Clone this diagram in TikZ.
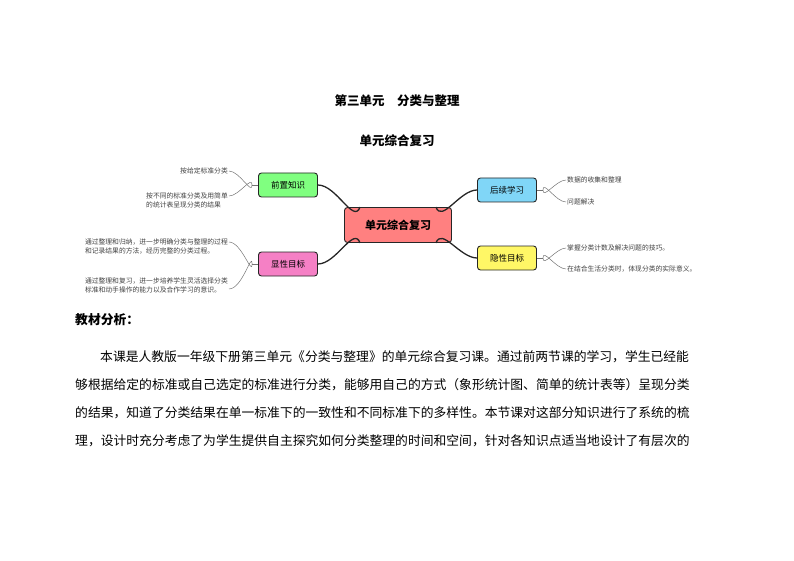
\documentclass[tikz,border=0pt]{standalone}
\usepackage{fontspec}
\setmainfont{Noto Sans CJK SC}
\usetikzlibrary{positioning}
\begin{document}
\begin{tikzpicture}[x=1pt,y=-1pt,
branch/.style={
% branch boxes:
rectangle,draw=black!85,line width=0.9pt,rounded corners=3pt,
minimum width=59pt,minimum height=24pt,inner sep=0pt,
font=\fontsize{8.5}{10}\selectfont
},
leaf/.style={inner sep=1pt,font=\fontsize{6.8}{9}\selectfont,text=black!75,align=left},
main/.style={draw=black!85,line width=1.3pt},
twig/.style={draw=black!55,line width=0.5pt},
line/.style={anchor=west,inner sep=0pt,font=\fontsize{12.8}{15}\selectfont}
]
\useasboundingbox (0,0) rectangle (794,561);
\node (title) at (397,101) {\fontsize{12.5}{15}\selectfont\bfseries 第三单元\quad 分类与整理};
\node (sub) at (397,141) {\fontsize{12.5}{15}\selectfont\bfseries 单元综合复习};
% mind map:
\node (center) [branch,fill=red!50!white,minimum width=107pt,minimum height=35pt,font=\fontsize{11}{13}\selectfont\bfseries] at (398,225) {单元综合复习};
\node (pre) [branch,fill=green!50!white] at (288,185) {前置知识};
\node (explicit) [branch,fill=magenta!50!white] at (288,264) {显性目标};
\node (post) [branch,fill=cyan!50!white] at (507,190) {后续学习};
\node (implicit) [branch,fill=yellow!60!white] at (507,258) {隐性目标};
\draw[main] (center.north west) ++(16,0) to[out=-110,in=0] (pre.east);
\draw[main] (center.south west) ++(16,0) to[out=110,in=0] (explicit.east);
\draw[main] (center.north east) ++(-16,0) to[out=-70,in=180] (post.west);
\draw[main] (center.south east) ++(-16,0) to[out=70,in=180] (implicit.west);
\node (pre1) [leaf,anchor=east] at (229,171) {按给定标准分类};
\node (pre2) [leaf,anchor=east] at (229,200) {按不同的标准分类及用简单\\的统计表呈现分类的结果};
\node (exp1) [leaf,anchor=east] at (229,246) {通过整理和归纳，进一步明确分类与整理的过程\\和记录结果的方法，经历完整的分类过程。};
\node (exp2) [leaf,anchor=east] at (229,285) {通过整理和复习，进一步培养学生灵活选择分类\\标准和动手操作的能力以及合作学习的意识。};
\node (post1) [leaf,anchor=west] at (566,180) {数据的收集和整理};
\node (post2) [leaf,anchor=west] at (566,202) {问题解决};
\node (imp1) [leaf,anchor=west] at (566,248) {掌握分类计数及解决问题的技巧。};
\node (imp2) [leaf,anchor=west] at (566,269) {在结合生活分类时，体现分类的实际意义。};
\draw[twig] (pre.west) -- ++(-6,0) coordinate (preS);
\draw[twig] (preS) to[out=-90,in=0] (pre1.east);
\draw[twig] (preS) to[out=90,in=0] ([yshift=4]pre2.east);
\draw[twig] (explicit.west) -- ++(-6,0) coordinate (expS);
\draw[twig] (expS) to[out=-90,in=0] ([yshift=4]exp1.east);
\draw[twig] (expS) to[out=90,in=0] ([yshift=-4]exp2.east);
\draw[twig] (post.east) -- ++(6,0) coordinate (postS);
\draw[twig] (postS) to[out=-90,in=180] (post1.west);
\draw[twig] (postS) to[out=90,in=180] (post2.west);
\draw[twig] (implicit.east) -- ++(6,0) coordinate (impS);
\draw[twig] (impS) to[out=-90,in=180] (imp1.west);
\draw[twig] (impS) to[out=90,in=180] (imp2.west);
% text below:
\node (head) [line] at (75,320) {\bfseries 教材分析：};
\node (l1) [line] at (100,357) {本课是人教版一年级下册第三单元《分类与整理》的单元综合复习课。通过前两节课的学习，学生已经能};
\node (l2) [line] at (75,385) {够根据给定的标准或自己选定的标准进行分类，能够用自己的方式（象形统计图、简单的统计表等）呈现分类};
\node (l3) [line] at (75,413) {的结果，知道了分类结果在单一标准下的一致性和不同标准下的多样性。本节课对这部分知识进行了系统的梳};
\node (l4) [line] at (75,441) {理，设计时充分考虑了为学生提供自主探究如何分类整理的时间和空间，针对各知识点适当地设计了有层次的};
\end{tikzpicture}
\end{document}
